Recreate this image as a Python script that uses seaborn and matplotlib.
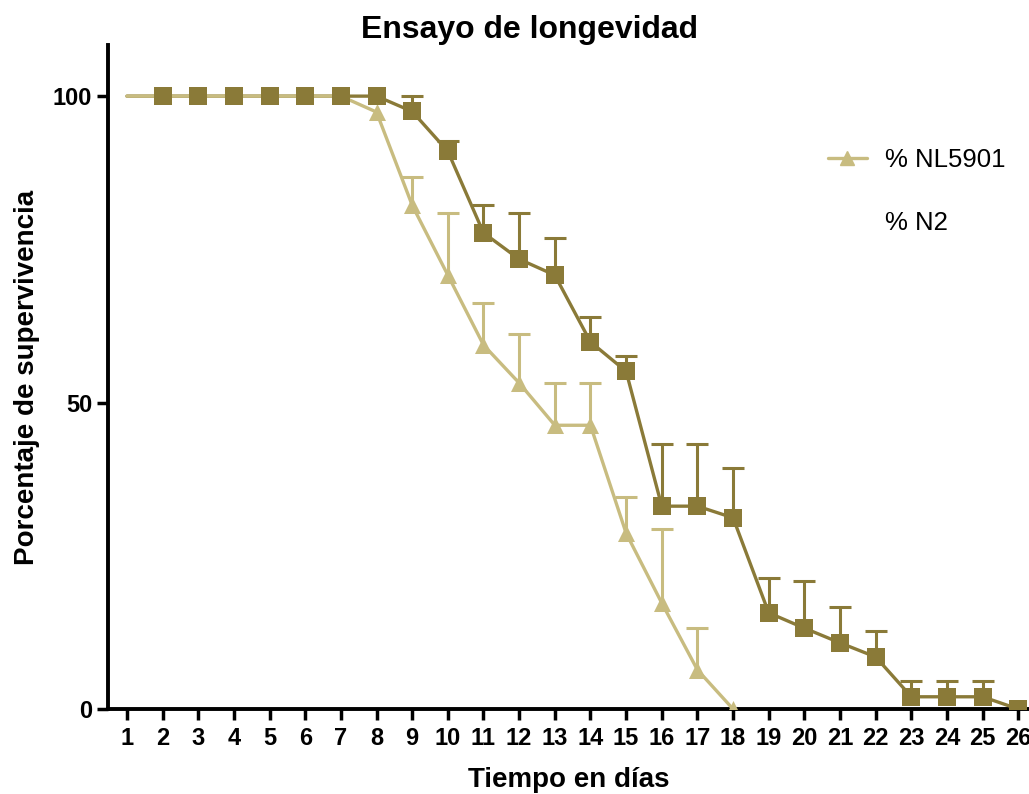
import numpy as np
import pandas as pd
import matplotlib.pyplot as plt
import seaborn as sns
from matplotlib.lines import Line2D

days = list(range(1, 27))

# % N2 (dark squares), mean and upper error
n2 = [100, 100, 100, 100, 100, 100, 100, 100, 97.5, 91, 77.7, 73.4, 70.8,
      59.9, 55.1, 33.1, 33.1, 31.2, 15.7, 13.2, 10.8, 8.5, 2.0, 2.0, 2.0, 0]
n2_err = [0, 0, 0, 0, 0, 0, 0, 0, 2.5, 1.7, 4.5, 7.6, 6.0,
          4.1, 2.5, 10.1, 10.1, 8.1, 5.7, 7.7, 5.8, 4.2, 2.6, 2.6, 2.6, 0]

# % NL5901 (light triangles), until day 18
nl_days = list(range(1, 19))
nl = [100, 100, 100, 100, 100, 100, 100, 97.4, 82.2, 70.8, 59.4, 53.2, 46.3,
      46.3, 28.7, 17.3, 6.4, 0]
nl_err = [0, 0, 0, 0, 0, 0, 0, 0, 4.6, 10.1, 6.8, 8.0, 6.9,
          6.9, 5.9, 12.1, 6.8, 0]

dark = '#8a7a38'
light = '#c8bc80'

sns.set_theme(style='ticks')
plt.rcParams['font.family'] = ['Liberation Sans', 'DejaVu Sans']
plt.rcParams['text.color'] = 'black'
plt.rcParams['axes.labelcolor'] = 'black'
plt.rcParams['xtick.color'] = 'black'
plt.rcParams['ytick.color'] = 'black'
plt.rcParams['axes.edgecolor'] = 'black'

df_n2 = pd.DataFrame({'dia': days, 'valor': n2, 'err': n2_err})
df_nl = pd.DataFrame({'dia': nl_days, 'valor': nl, 'err': nl_err})

fig = plt.figure(figsize=(10.29, 7.94), dpi=100)
ax = fig.add_axes([0.105, 0.107, 0.895, 0.836])

# error bars (upper only)
for df, c in [(df_nl, light), (df_n2, dark)]:
    e = df[df['err'] > 0]
    _, caps, _ = ax.errorbar(e['dia'], e['valor'],
                             yerr=[np.zeros(len(e)), e['err']],
                             fmt='none', ecolor=c, elinewidth=2.2, capsize=8,
                             capthick=2.2, zorder=2)
    caps[0].set_visible(False)

sns.lineplot(data=df_n2, x='dia', y='valor', color=dark, linewidth=2.4,
             ax=ax, zorder=3)
sns.lineplot(data=df_nl, x='dia', y='valor', color=light, linewidth=2.4,
             ax=ax, zorder=3)

sns.scatterplot(data=df_nl[df_nl['dia'] >= 8], x='dia', y='valor', marker='^',
                color=light, s=150, linewidth=0, ax=ax, zorder=4)
sns.scatterplot(data=df_n2[df_n2['dia'] >= 2], x='dia', y='valor', marker='s',
                color=dark, s=150, linewidth=0, ax=ax, zorder=5)

ax.set_xlim(0.47, 26.3)
ax.set_ylim(0, 108.3)
ax.set_xticks(days)
ax.set_yticks([0, 50, 100])
for lab in ax.get_xticklabels() + ax.get_yticklabels():
    lab.set_fontweight('bold')
ax.tick_params(axis='both', labelsize=17, width=2.5, length=8)
ax.tick_params(axis='x', pad=5)
ax.spines['top'].set_visible(False)
ax.spines['right'].set_visible(False)
ax.spines['left'].set_linewidth(2.8)
ax.spines['bottom'].set_linewidth(2.8)

ax.set_xlabel('Tiempo en días', fontsize=20, fontweight='bold', labelpad=12)
ax.set_ylabel('Porcentaje de supervivencia', fontsize=20, fontweight='bold',
              labelpad=9)
ax.set_title('Ensayo de longevidad', fontsize=23, fontweight='bold', pad=5,
             x=0.458)

handles = [Line2D([], [], color=light, marker='^', markersize=10, linewidth=2.4),
           Line2D([], [], color='none')]
ax.legend(handles, ['% NL5901', '% N2'], loc='upper right',
          bbox_to_anchor=(1.0, 0.88), frameon=False, fontsize=18.5,
          labelspacing=1.5, handlelength=1.55, handletextpad=0.7)

fig.savefig('out.png', dpi=100)
